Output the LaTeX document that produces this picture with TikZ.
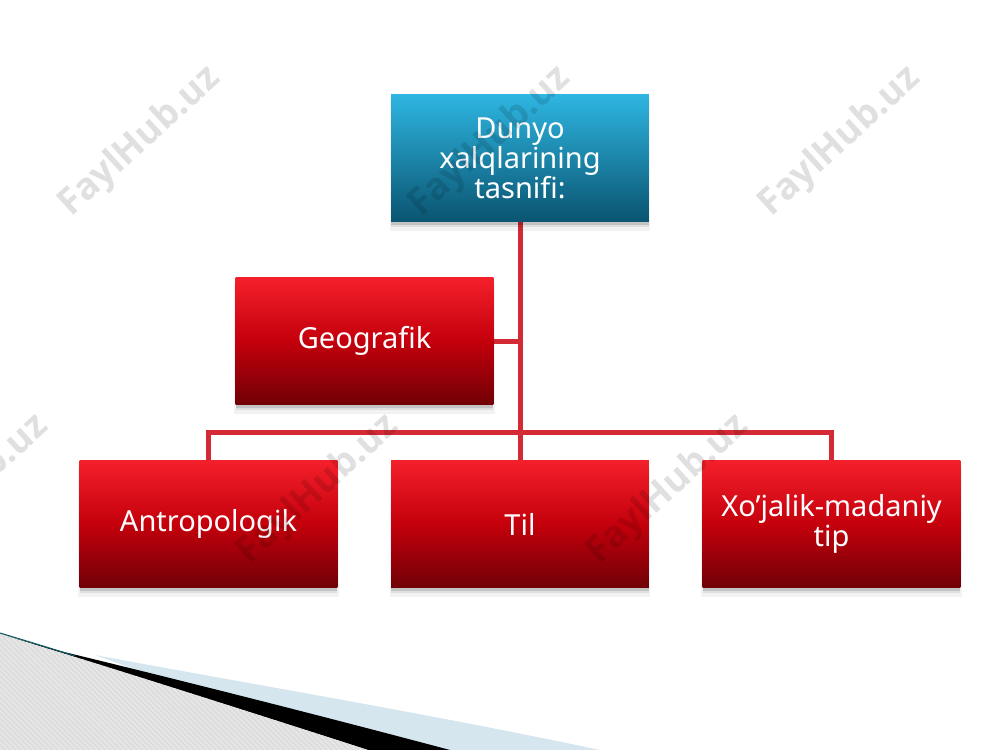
\documentclass[tikz,border=0pt]{standalone}
\usepackage{fontspec}
\setmainfont{Noto Sans}
\newfontfamily\wmfont{Open Sans}
\usetikzlibrary{shadows,patterns}
\pgfdeclarelayer{background}
\pgfsetlayers{background,main}
\definecolor{lnred}{HTML}{D42A35}
\definecolor{rtop}{HTML}{F4202B}
\definecolor{rmid}{HTML}{C4000C}
\definecolor{rbot}{HTML}{700006}
\definecolor{btop}{HTML}{2EB6E2}
\definecolor{bbot}{HTML}{0A5470}
\definecolor{sky}{HTML}{D5E6EF}
\definecolor{teal}{HTML}{0E5A66}
\tikzset{
  px/.style={x=0.02cm,y=-0.02cm},
  box/.style={rectangle, minimum width=5.16cm, minimum height=2.56cm, inner sep=2pt,
    text=white, align=center, font=\fontsize{16.5}{17}\selectfont,
    drop shadow={shadow xshift=0pt, shadow yshift=-4.5pt, shadow scale=1.01, opacity=0.05, fill=black},
    drop shadow={shadow xshift=0pt, shadow yshift=-3pt, opacity=0.08, fill=black},
    drop shadow={shadow xshift=0pt, shadow yshift=-1.5pt, opacity=0.12, fill=black}},
  redbox/.style={box, top color=rtop, bottom color=rbot, middle color=rmid},
  bluebox/.style={box, top color=btop, bottom color=bbot},
  conn/.style={draw=lnred, line width=0.1cm},
  wmark/.style={text=black, opacity=0.12, rotate=42.4, font=\wmfont\bfseries\fontsize{21}{21}\selectfont}
}
\begin{document}
\begin{tikzpicture}[px]
\useasboundingbox (0,0) rectangle (1000,750);
% boxes
\coordinate (j) at (520,432);
\node[bluebox] (top) at (520,158) {Dunyo\\xalqlarining\\tasnifi:};
\node[redbox] (geo) at (364.5,341) {Geografik};
\node[redbox] (antro) at (208.5,524) {Antropologik};
\node[redbox] (til) at (520,524) {Til};
\node[redbox] (xo) at (831.5,524) {Xo’jalik-madaniy\\tip};
\begin{pgfonlayer}{background}
\fill[white] (0,0) rectangle (1000,750);
% bottom-left decoration
\fill[sky] (95,655) .. controls (250,684) and (420,712) .. (600,750) -- (360,750) -- cycle;
\fill[black] (60,651) .. controls (180,680) and (330,718) .. (450,750) -- (368,750) .. controls (300,728) and (180,690) .. (0,634) -- cycle;
\fill[gray!20] (0,634) .. controls (100,664) and (250,712) .. (368,750) -- (0,750) -- cycle;
\fill[pattern=north west lines, pattern color=gray!32] (0,634) .. controls (100,664) and (250,712) .. (368,750) -- (0,750) -- cycle;
\draw[teal, line width=0.6pt] (0,633) .. controls (30,642) and (50,648) .. (75,656);
% connectors
\draw[conn] (top.south) -- (til.north);
\draw[conn] (geo.east) -- (geo.east -| top.south);
\draw[conn] (antro.north) |- (j) -| (xo.north);
\end{pgfonlayer}
% watermarks
\node[wmark] (w1) at (140,142) {FaylHub.uz};
\node[wmark] (w2) at (490,142) {FaylHub.uz};
\node[wmark] (w3) at (840,142) {FaylHub.uz};
\node[wmark] (w4) at (-32,490) {FaylHub.uz};
\node[wmark] (w5) at (318,490) {FaylHub.uz};
\node[wmark] (w6) at (668,490) {FaylHub.uz};
\end{tikzpicture}
\end{document}
